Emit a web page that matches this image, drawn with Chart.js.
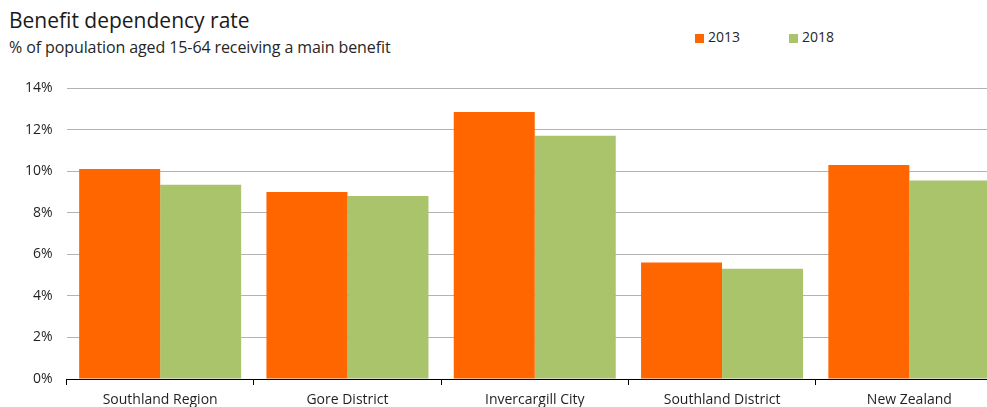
<!DOCTYPE html>
<html>
<head>
<meta charset="utf-8">
<script src="https://cdn.jsdelivr.net/npm/chart.js@4"></script>
<style>
  html, body { margin: 0; padding: 0; background: #fff; }
  body { width: 987px; height: 407px; overflow: hidden; position: relative; font-family: "Open Sans", "Noto Sans", sans-serif; }
  #title { position: absolute; left: 9px; top: 6px; font-size: 21px; color: #1a1a1a; white-space: nowrap; }
  #subtitle { position: absolute; left: 9px; top: 36px; font-size: 16px; color: #262626; white-space: nowrap; letter-spacing: -0.1px; }
  #legend { position: absolute; left: 695px; top: 29px; font-size: 14px; color: #262626; white-space: nowrap; }
  .item { position: absolute; top: 0; }
  .swatch { position: absolute; top: 5px; width: 9px; height: 9px; }
  .label { position: absolute; left: 13px; top: -2px; }
  #wrap { position: absolute; left: 0; top: 0; }
</style>
</head>
<body>
<div id="title">Benefit dependency rate</div>
<div id="subtitle">% of population aged 15-64 receiving a main benefit</div>
<div id="legend"></div>
<div id="wrap"><canvas id="benefitChart" width="1005" height="425"></canvas></div>
<script>
const categories = ["Southland Region", "Gore District", "Invercargill City", "Southland District", "New Zealand"];
const seriesNames = ["2013", "2018"];
const values2013 = [10.1, 9.0, 12.85, 5.6, 10.3];
const values2018 = [9.35, 8.8, 11.7, 5.3, 9.55];
const seriesColors = ["#ff6600", "#aac46c"];

// html legend, spaced like the original
const legendBox = document.getElementById("legend");
seriesNames.forEach((name, i) => {
  const item = document.createElement("div");
  item.className = "item";
  item.style.left = (i * 94) + "px";
  item.innerHTML = `<span class="swatch" style="background:${seriesColors[i]}"></span><span class="label">${name}</span>`;
  legendBox.appendChild(item);
});

const ctx = document.getElementById("benefitChart").getContext("2d");

new Chart(ctx, {
  type: "bar",
  data: {
    labels: categories,
    datasets: [
      { label: seriesNames[0], data: values2013, backgroundColor: seriesColors[0] },
      { label: seriesNames[1], data: values2018, backgroundColor: seriesColors[1] },
    ],
  },
  options: {
    responsive: false,
    animation: false,
    devicePixelRatio: 1,
    layout: { padding: { top: 88, left: 0, right: 2, bottom: 0 } },
    datasets: {
      bar: { categoryPercentage: 0.865, barPercentage: 1.0 },
    },
    plugins: {
      legend: { display: false },
      tooltip: { enabled: false },
    },
    scales: {
      x: {
        afterFit: (scale) => { scale.height = 46; },
        border: { display: true, color: "#000000", width: 1 },
        grid: {
          offset: true,
          drawOnChartArea: false,
          drawTicks: true,
          tickLength: 6,
          color: "#000000",
        },
        ticks: {
          color: "#1f1f1f",
          padding: 7,
          maxRotation: 0,
          font: { family: "'Open Sans', 'Noto Sans', sans-serif", size: 14 },
        },
      },
      y: {
        min: 0,
        max: 14,
        afterFit: (scale) => { scale.width = 66.5; },
        border: { display: false },
        grid: { color: "#b3b3b3", drawTicks: false },
        ticks: {
          stepSize: 2,
          padding: 14,
          color: "#1f1f1f",
          font: { family: "'Open Sans', 'Noto Sans', sans-serif", size: 14 },
          callback: (v) => v + "%",
        },
      },
    },
  },
});
</script>
</body>
</html>
